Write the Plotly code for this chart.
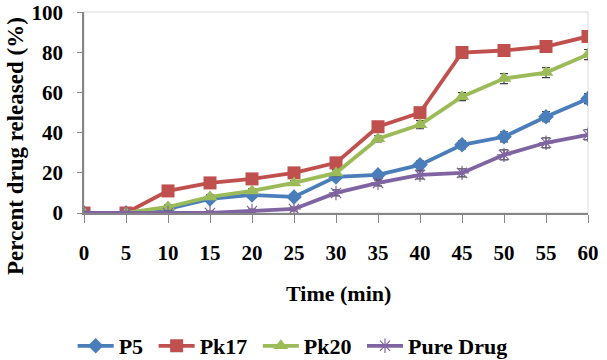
import plotly.graph_objects as go

time_min = [0, 5, 10, 15, 20, 25, 30, 35, 40, 45, 50, 55, 60]
p5 = [0, 0, 2, 7, 9, 8, 18, 19, 24, 34, 38, 48, 57]
pk17 = [0, 0, 11, 15, 17, 20, 25, 43, 50, 80, 81, 83, 88]
pk20 = [0, 0, 3, 8, 11, 15, 20, 37, 44, 58, 67, 70, 79]
pure = [0, 0, 0, 0, 1, 2, 10, 15, 19, 20, 29, 35, 39]
err = [0, 0, 1, 1, 1, 1, 1.5, 1.5, 2, 2, 2.5, 2.5, 2.5]
y_ticks = [0, 20, 40, 60, 80, 100]

series = [
    ("P5", p5, "#4A7EBB", "diamond", 12),
    ("Pk17", pk17, "#C0504D", "square", 13),
    ("Pk20", pk20, "#9BBB59", "triangle-up", 13),
    ("Pure Drug", pure, "#8064A2", "asterisk-open", 12),
]

FONT = "Liberation Serif, Times New Roman, serif"
fig = go.Figure()
for name, vals, col, sym, sz in series:
    marker = dict(symbol=sym, size=sz, color=col)
    if sym == "asterisk-open":
        marker["line"] = dict(color="#B9A9CF", width=1.2)
    fig.add_trace(go.Scatter(
        x=time_min, y=vals, name="<b>" + name + "</b>\u00a0", mode="lines+markers",
        line=dict(color=col, width=3.8),
        marker=marker,
        error_y=dict(type="data", array=err, visible=True, color="#404040",
                     thickness=1.2, width=4),
    ))

fig.update_layout(
    width=607, height=360,
    margin=dict(l=84, r=19, t=12, b=147, autoexpand=False),
    plot_bgcolor="white", paper_bgcolor="white",
    font=dict(family=FONT, color="black", size=20),
    showlegend=True,
    legend=dict(orientation="h", x=0.42, xanchor="center", y=(213 - 346) / 201,
                yanchor="middle",
                font=dict(family=FONT, size=22, color="black"),
                itemwidth=36, tracegroupgap=0, traceorder="normal"),
    xaxis=dict(range=[0, 60], tickmode="array", tickvals=time_min,
               ticktext=["<b>%d</b>" % t for t in time_min],
               showgrid=False, zeroline=False, automargin=False,
               showline=True, linecolor="#868686", linewidth=1.5,
               ticks="outside", ticklen=8, tickcolor="#868686",
               tickfont=dict(family=FONT, size=21, color="black"),
               ticklabelstandoff=12),
    yaxis=dict(range=[0, 100.2], tickmode="array", tickvals=y_ticks,
               ticktext=["<b>%d</b>" % v for v in y_ticks],
               showgrid=False, zeroline=False, automargin=False,
               showline=True, linecolor="#868686", linewidth=1.5,
               ticks="outside", ticklen=5, tickcolor="#868686",
               tickfont=dict(family=FONT, size=21, color="black"),
               ticklabelstandoff=10, ticklabeloverflow="allow"),
    shapes=[dict(type="rect", xref="paper", yref="paper", x0=0, x1=1, y0=0, y1=1,
                 line=dict(color="#D9D9D9", width=1), layer="below")],
    annotations=[
        dict(text="<b>Time (min)</b>", xref="paper", yref="paper",
             x=0.505, y=(213 - 293) / 201, xanchor="center", yanchor="middle",
             showarrow=False, font=dict(family=FONT, size=22, color="black")),
        dict(text="<b>Percent drug released (%)</b>", xref="paper", yref="paper",
             x=(15 - 84) / 504, y=(213 - 146) / 201, xanchor="center", yanchor="middle",
             textangle=-90, showarrow=False,
             font=dict(family=FONT, size=23, color="black")),
    ],
)

fig.write_html("out.html")
